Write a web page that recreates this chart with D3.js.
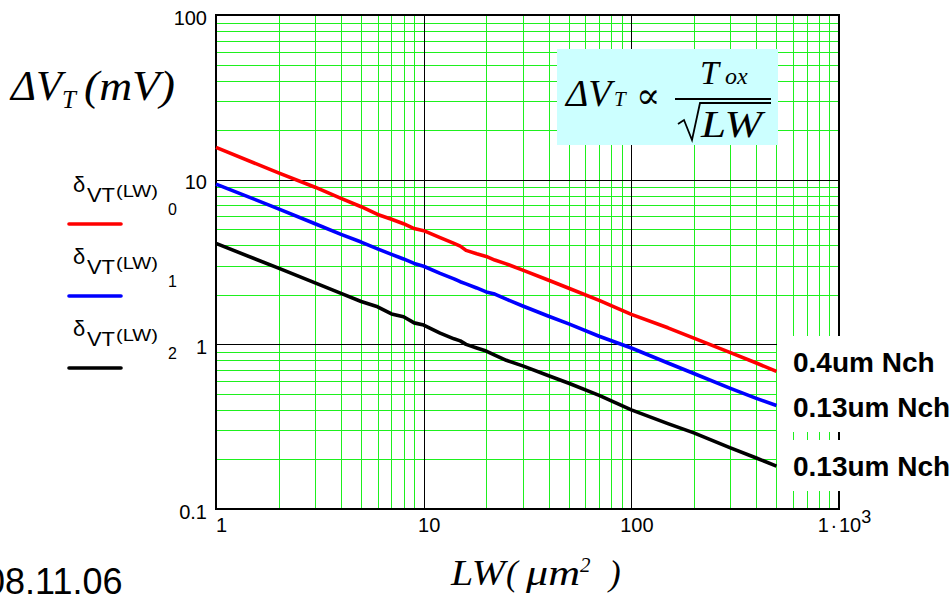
<!DOCTYPE html>
<html>
<head>
<meta charset="utf-8">
<script src="https://cdn.jsdelivr.net/npm/d3@7"></script>
<style>
  body { margin: 0; background: #fff; }
  svg { display: block; }
  .tick text { font-family: "Liberation Sans", Arial, sans-serif; font-size: 20px; fill: #000; }
  .serif { font-family: "Liberation Serif", "Times New Roman", serif; font-style: italic; }
  .sans { font-family: "Liberation Sans", Arial, sans-serif; }
</style>
</head>
<body>
<svg id="chart" width="952" height="597"></svg>
<script>
"use strict";

// LW sample points (um^2) and the three curves (mV)
var lw = [1, 2, 3, 4, 5, 6, 7, 8, 9, 10, 12, 14, 15, 16, 18, 20, 22, 25, 30, 40, 50, 70, 100, 150, 200, 300, 400, 500];
var vt0 = [15.7, 11.0, 9.0, 7.7, 6.85, 6.15, 5.75, 5.4, 5.05, 4.9, 4.45, 4.1, 3.95, 3.72, 3.55, 3.42, 3.25, 3.08, 2.82, 2.45, 2.19, 1.85, 1.52, 1.26, 1.09, 0.89, 0.77, 0.685];
var vt1 = [9.4, 6.65, 5.4, 4.65, 4.18, 3.8, 3.52, 3.3, 3.1, 2.98, 2.7, 2.5, 2.4, 2.33, 2.2, 2.08, 2.02, 1.88, 1.71, 1.48, 1.33, 1.12, 0.95, 0.77, 0.665, 0.54, 0.47, 0.425];
var vt2 = [4.1, 2.9, 2.36, 2.04, 1.82, 1.69, 1.53, 1.47, 1.35, 1.31, 1.17, 1.08, 1.05, 1.0, 0.95, 0.91, 0.86, 0.80, 0.74, 0.645, 0.58, 0.49, 0.40, 0.33, 0.29, 0.235, 0.204, 0.182];

var seriesColors = ["#ff0000", "#0000ff", "#000000"];
var legendSubs = ["0", "1", "2"];
var deviceLabels = ["0.4um Nch", "0.13um Nch", "0.13um Nch"];

var xMajor = [1, 10, 100, 1000];
var yMajor = [0.1, 1, 10, 100];
var yTickLabels = ["0.1", "1", "10", "100"];

function stretched(sel, cls, px, py, size, txt, len) {
  var t = sel.append("text").attr("class", cls)
    .attr("x", px).attr("y", py).attr("font-size", size + "px").text(txt);
  if (len) t.attr("textLength", len).attr("lengthAdjust", "spacingAndGlyphs");
  return t;
}

function draw() {
  var svg = d3.select("#chart");
  var
    pLeft = 216, pRight = 839,
    pTop = 15, pBottom = 509;

  var
    x = d3.scaleLog().domain([1, 1000]).range([pLeft, pRight]),
    y = d3.scaleLog().domain([0.1, 100]).range([pBottom, pTop])
  ;

  var xMinor = x.ticks().filter(d => xMajor.indexOf(d) < 0);
  var yMinor = y.ticks().filter(d => yMajor.indexOf(d) < 0);

  // green minor grid
  svg.append("g")
    .attr("transform", "translate(0," + pBottom + ")")
    .call(d3.axisBottom(x).tickValues(xMinor).tickSize(-(pBottom - pTop)).tickFormat(""))
    .call(g => g.select(".domain").remove())
    .selectAll("line").attr("stroke", "#1ef01e").attr("shape-rendering", "crispEdges");

  svg.append("g")
    .attr("transform", "translate(" + pLeft + ",0)")
    .call(d3.axisLeft(y).tickValues(yMinor).tickSize(-(pRight - pLeft)).tickFormat(""))
    .call(g => g.select(".domain").remove())
    .selectAll("line").attr("stroke", "#1ef01e").attr("shape-rendering", "crispEdges");

  // black decade grid
  svg.append("g")
    .attr("transform", "translate(0," + pBottom + ")")
    .call(d3.axisBottom(x).tickValues(xMajor).tickSize(-(pBottom - pTop)).tickFormat(""))
    .call(g => g.select(".domain").remove())
    .selectAll("line").attr("stroke", "#000").attr("shape-rendering", "crispEdges");

  svg.append("g")
    .attr("transform", "translate(" + pLeft + ",0)")
    .call(d3.axisLeft(y).tickValues(yMajor).tickSize(-(pRight - pLeft)).tickFormat(""))
    .call(g => g.select(".domain").remove())
    .selectAll("line").attr("stroke", "#000").attr("shape-rendering", "crispEdges");

  // frame
  svg.append("rect")
    .attr("x", pLeft).attr("y", pTop)
    .attr("width", pRight - pLeft).attr("height", pBottom - pTop)
    .attr("fill", "none").attr("stroke", "#000").attr("stroke-width", 2);

  // tick labels
  svg.append("g")
    .attr("transform", "translate(" + pLeft + ",0)")
    .call(d3.axisLeft(y).tickValues(yMajor).tickSize(0).tickPadding(9)
      .tickFormat((d, i) => yTickLabels[i]))
    .call(g => g.select(".domain").remove())
    .selectAll("text").attr("dy", "0.45em");

  var xAxis = svg.append("g")
    .attr("transform", "translate(0," + pBottom + ")")
    .call(d3.axisBottom(x).tickValues(xMajor).tickSize(0).tickPadding(9)
      .tickFormat(d => d < 1000 ? String(d) : ""))
    .call(g => g.select(".domain").remove());
  xAxis.selectAll("text").attr("dx", 5);
  xAxis.selectAll(".tick").filter(d => d === 1000).select("text")
    .each(function() {
      var t = d3.select(this);
      t.append("tspan").text("1\u200a\u00b7\u200a10");
      t.append("tspan").attr("dy", "-0.5em").attr("font-size", "18px").text("3");
    });

  // formula box
  var fb = svg.append("g");
  fb.append("rect").attr("x", 557).attr("y", 49).attr("width", 221).attr("height", 96).attr("fill", "#ccffff");
  stretched(fb, "serif", 566, 106, 38, "\u0394V");
  stretched(fb, "serif", 614, 106, 21, "T");
  fb.append("text").attr("x", 636).attr("y", 108).attr("font-family", "DejaVu Serif, serif")
    .attr("font-size", "36px").text("\u221d");
  stretched(fb, "serif", 700, 84, 34, "T");
  stretched(fb, "serif", 725, 84, 24, "ox");
  fb.append("line").attr("x1", 675).attr("x2", 771).attr("y1", 99).attr("y2", 99)
    .attr("stroke", "#000").attr("stroke-width", 2);
  fb.append("path").attr("d", "M678,124 L684,120 L692,140 L700,103 L771,103")
    .attr("fill", "none").attr("stroke", "#000").attr("stroke-width", 1.8);
  stretched(fb, "serif", 701, 137, 38, "LW", 61);

  // curves
  var line = d3.line().x((d, i) => x(lw[i])).y(d => y(d));
  [vt0, vt1, vt2].forEach(function(s, k) {
    svg.append("path")
      .datum(s)
      .attr("d", line)
      .attr("fill", "none")
      .attr("stroke", seriesColors[k])
      .attr("stroke-width", 3.6)
      .attr("stroke-linejoin", "round");
  });

  // device labels with white backing
  var labelBase = [372, 417, 476];
  deviceLabels.forEach(function(t, k) {
    svg.append("rect").attr("x", 777).attr("y", labelBase[k] - 36)
      .attr("width", 175).attr("height", 51).attr("fill", "#fff");
  });
  deviceLabels.forEach(function(t, k) {
    svg.append("text").attr("class", "sans").attr("x", 793).attr("y", labelBase[k])
      .attr("font-size", "28px").attr("font-weight", "bold").text(t);
  });

  // legend
  legendSubs.forEach(function(s, k) {
    var g = svg.append("g").attr("transform", "translate(0," + (k * 72) + ")");
    stretched(g, "sans", 73, 192, 22, "\u03b4");
    stretched(g, "sans", 87, 202, 20, "VT", 28);
    stretched(g, "sans", 116, 197, 17, "(LW)", 42);
    stretched(g, "sans", 168, 215, 16, s);
    g.append("line").attr("x1", 69).attr("x2", 121).attr("y1", 224).attr("y2", 224)
      .attr("stroke", seriesColors[k]).attr("stroke-width", 3.6).attr("stroke-linecap", "round");
  });

  // axis titles
  stretched(svg, "serif", 11, 100, 42, "\u0394V", 51);
  stretched(svg, "serif", 62, 108, 25, "T");
  stretched(svg, "serif", 84, 100, 42, "(mV)", 91);

  stretched(svg, "serif", 451, 585, 35, "LW", 54);
  stretched(svg, "serif", 506, 585, 35, "(");
  stretched(svg, "serif", 526, 585, 35, "\u03bcm", 54);
  stretched(svg, "serif", 580, 572, 21, "2");
  stretched(svg, "serif", 609, 585, 35, ")");

  // date stamp, cut at the left edge as in the source slide
  svg.append("text").attr("class", "sans").attr("x", -15).attr("y", 594)
    .attr("font-size", "36px").text("08.11.06");
}

draw();
</script>
</body>
</html>
